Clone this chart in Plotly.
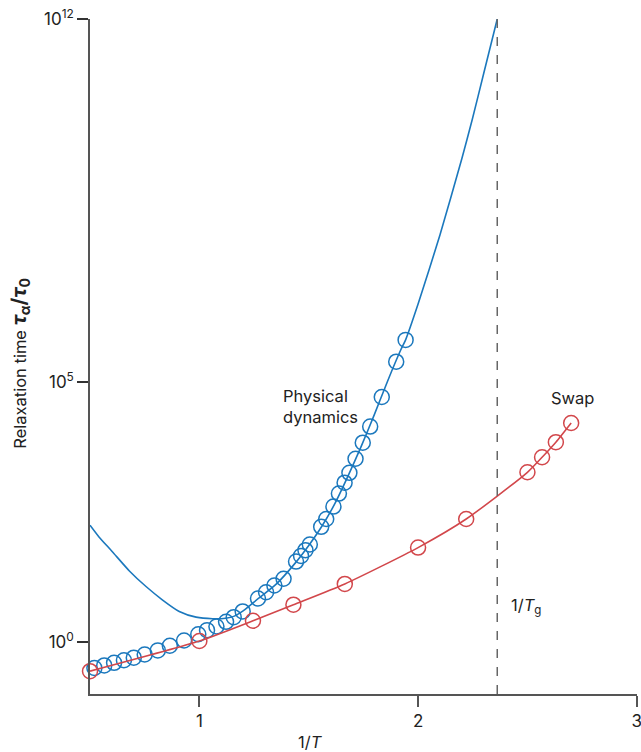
import plotly.graph_objects as go

# Physical dynamics: measured relaxation times (1/T, log10 tau)
phys_x = [0.52, 0.565, 0.61, 0.655, 0.70, 0.75, 0.81, 0.865, 0.93, 0.995,
          1.035, 1.078, 1.122, 1.157, 1.198, 1.268, 1.305, 1.343, 1.385,
          1.442, 1.465, 1.485, 1.505, 1.557, 1.58, 1.613, 1.638, 1.664,
          1.686, 1.714, 1.747, 1.781, 1.834, 1.90, 1.943]
phys_logtau = [-0.50, -0.45, -0.40, -0.35, -0.30, -0.24, -0.16, -0.07, 0.03, 0.15,
               0.23, 0.30, 0.39, 0.48, 0.59, 0.84, 0.96, 1.09, 1.22,
               1.55, 1.66, 1.77, 1.88, 2.22, 2.37, 2.61, 2.86, 3.07,
               3.26, 3.53, 3.84, 4.15, 4.72, 5.40, 5.82]

# Fitted curve for physical dynamics, extrapolated to the glass transition
fit_x = [0.50, 0.54, 0.60, 0.68, 0.756, 0.832, 0.908, 0.985, 1.06, 1.12,
         1.16, 1.20, 1.27, 1.35, 1.44, 1.50, 1.56, 1.62, 1.68, 1.74,
         1.80, 1.86, 1.92, 1.943, 2.00, 2.10, 2.20, 2.248, 2.30, 2.362]
fit_logtau = [2.25, 2.03, 1.75, 1.37, 1.07, 0.81, 0.59, 0.48, 0.45, 0.46,
              0.50, 0.60, 0.84, 1.11, 1.53, 1.86, 2.23, 2.67, 3.20, 3.77,
              4.38, 5.02, 5.62, 5.82, 6.51, 7.84, 9.31, 10.07, 10.95, 12.0]

# Swap Monte Carlo relaxation times
swap_x = [0.50, 1.00, 1.245, 1.43, 1.665, 2.00, 2.22, 2.50, 2.567, 2.63, 2.70]
swap_logtau = [-0.56, 0.02, 0.41, 0.72, 1.12, 1.82, 2.37, 3.27, 3.56, 3.85, 4.22]

inv_Tg = 2.362

y_tickvals = [1e0, 1e5, 1e12]
y_ticktext = ["10<sup>0</sup>", "10<sup>5</sup>", "10<sup>12</sup>"]
x_tickvals = [1, 2, 3]

BLUE = "#1b78bd"
RED = "#d2474b"
AXIS = "#555555"
TEXT = "#222222"
FONT = "Inter, Liberation Sans, sans-serif"

fig = go.Figure()

fig.add_trace(go.Scatter(
    x=fit_x, y=[10 ** v for v in fit_logtau], mode="lines",
    line=dict(color=BLUE, width=1.6, shape="spline", smoothing=0.6),
    cliponaxis=False, showlegend=False, hoverinfo="skip"))

fig.add_trace(go.Scatter(
    x=phys_x, y=[10 ** v for v in phys_logtau], mode="markers",
    marker=dict(symbol="circle-open", size=15, color=BLUE, line=dict(width=1.5, color=BLUE)),
    cliponaxis=False, showlegend=False))

fig.add_trace(go.Scatter(
    x=swap_x, y=[10 ** v for v in swap_logtau], mode="lines+markers",
    line=dict(color=RED, width=1.6, shape="spline", smoothing=0.6),
    marker=dict(symbol="circle-open", size=15, color=RED, line=dict(width=1.5, color=RED)),
    cliponaxis=False, showlegend=False))

# Glass transition marker
fig.add_shape(type="line", xref="x", yref="y", x0=inv_Tg, x1=inv_Tg, y0=10 ** -1, y1=1e12,
              line=dict(color="#666666", width=1.5, dash="dash"))

ann_font = dict(family=FONT, size=16.5, color=TEXT)
fig.add_annotation(x=1.374, y=4.53, xref="x", yref="y", text="Physical<br>dynamics",
                   showarrow=False, xanchor="left", yanchor="middle", align="left", font=ann_font)
fig.add_annotation(x=2.597, y=4.70, xref="x", yref="y", text="Swap",
                   showarrow=False, xanchor="left", yanchor="middle", font=ann_font)
fig.add_annotation(x=2.414, y=0.70, xref="x", yref="y", text="1/<i>T</i><sub>g</sub>",
                   showarrow=False, xanchor="left", yanchor="middle", font=ann_font)

# Axis titles
fig.add_annotation(x=(310 - 90) / 547, y=-(742 - 694.3) / 675, xref="paper", yref="paper",
                   text="1/<i>T</i>", showarrow=False, xanchor="center", yanchor="middle",
                   font=ann_font)
fig.add_annotation(x=-(90 - 20) / 547, y=(694.3 - 364) / 675, xref="paper", yref="paper",
                   text=("Relaxation time <span style='font-size:20px'><b><i>τ</i><sub>α</sub>"
                         "/<i>τ</i><sub>0</sub></b></span>"),
                   textangle=-90, showarrow=False, xanchor="center", yanchor="middle",
                   font=ann_font)

tick_font = dict(family=FONT, size=17, color=TEXT)
fig.update_xaxes(range=[0.4999, 3.001], tickvals=x_tickvals, ticks="outside", ticklen=11,
                 tickwidth=1.5, tickcolor=AXIS, showline=True, linecolor=AXIS, linewidth=1.5,
                 showgrid=False, zeroline=False, tickfont=tick_font,
                 ticklabeloverflow="allow", automargin=False)
fig.update_yaxes(type="log", range=[-1, 12], tickvals=y_tickvals, ticktext=y_ticktext,
                 ticks="outside", ticklen=11, tickwidth=1.5, tickcolor="#333333",
                 showline=True, linecolor=AXIS, linewidth=1.5, showgrid=False, zeroline=False,
                 tickfont=tick_font, ticklabeloverflow="allow", automargin=False)

fig.update_layout(width=641, height=752, autosize=False,
                  margin=dict(l=90, r=4, t=19, b=58),
                  plot_bgcolor="white", paper_bgcolor="white",
                  font=dict(family=FONT, size=16.5, color=TEXT))

fig.write_html("out.html")
